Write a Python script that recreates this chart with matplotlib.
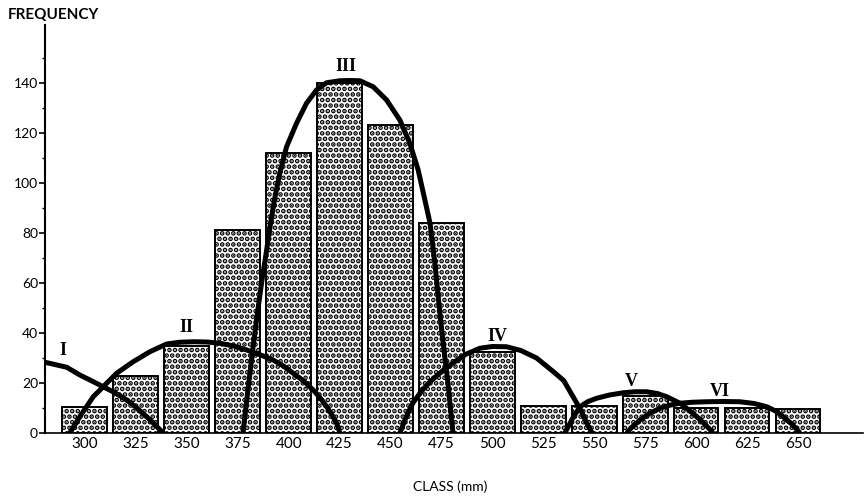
import numpy as np
import matplotlib
matplotlib.use('Agg')
import matplotlib.pyplot as plt

# class midpoints (mm) and frequencies
classes = [300, 325, 350, 375, 400, 425, 450, 475, 500, 525, 550, 575, 600, 625, 650]
freq = [10.5, 23, 35, 81, 112, 140, 123, 84, 32.5, 11, 11, 15, 10, 10, 9.5]

# fitted component curves
c1_x = [280.4, 291.1, 297.5, 303, 309, 315, 320.5, 325.5, 330.3, 334.5, 338.4]
c1_y = [28.3, 26.3, 23.2, 21, 18.5, 16, 13.2, 10, 6.5, 3.3, 0]
c2_x = [292.6, 297.5, 304.1, 309, 315.6, 323.7, 331.9, 340.1, 346.5, 353.2, 360, 366.3,
        373, 379.4, 386, 392.4, 397.5, 402.3, 407.5, 412.1, 415.5, 418.7, 421.3, 423.6, 425.2]
c2_y = [0, 6.5, 14.5, 18.5, 23.9, 28.5, 32.5, 35.6, 36.3, 36.5, 36.4, 35.9,
        34.8, 33.2, 31.3, 29.2, 26.8, 23.9, 20.7, 17.2, 14, 10.5, 7.2, 3.9, 0]
c3_x = [377.6, 380, 382.5, 384.7, 386.9, 389, 391, 393, 395.7, 399, 403.9, 408.8, 413.7,
        418.6, 425.2, 430, 435, 441.5, 448.1, 454.6, 459.5, 463.6, 466.9, 469.4, 471.8,
        473.5, 475.3, 478.2, 480.7]
c3_y = [0, 17, 34, 48, 61, 72, 83, 93, 104, 114.5, 123.9, 131.9, 137.2,
        140.1, 140.9, 141, 140.9, 138.5, 133.2, 125.2, 115.9, 105.2, 93.2, 84, 68,
        54, 40, 20, 0]
c4_x = [454.6, 458, 461, 465, 469.4, 475, 480.7, 487, 493.9, 500, 507, 514, 521.7, 530,
        535, 540, 543.5, 546.3, 549]
c4_y = [0, 7, 12, 16.5, 20.5, 24.5, 28, 31.5, 33.9, 34.6, 34.5, 33, 30, 24.5,
        21, 14, 9, 4, 0]
c5_x = [535.6, 539.5, 543, 547, 551.2, 557.5, 564.3, 570, 575.7, 581, 585.6, 592.1, 596.5,
        600.3, 604.5, 608.4]
c5_y = [0, 6, 10.5, 12.6, 13.9, 15.2, 16.1, 16.5, 16.5, 15.8, 14.5, 11.9, 9.2,
        6.5, 3.4, 0]
c6_x = [565.9, 569, 572.5, 577, 582.3, 587, 592.1, 598, 605.2, 613, 621.5, 628.5, 634.7,
        639, 642.8, 647, 651]
c6_y = [0, 2.7, 5.2, 7.8, 9.9, 11.1, 11.9, 12.3, 12.5, 12.6, 12.5, 11.8, 10.5,
        8.8, 6.5, 3.6, 0]

comp_labels = ['I', 'II', 'III', 'IV', 'V', 'VI']
label_x = [289, 349.7, 428, 502.4, 568.4, 611.7]
label_y = [33, 42, 146.5, 38.5, 20.5, 16.5]

plt.rcParams['hatch.linewidth'] = 2.4
plt.rcParams['font.family'] = ['Lato', 'DejaVu Sans']

fig = plt.figure(figsize=(8.64, 5), dpi=100)
ax = fig.add_axes([0.052, 0.134, 0.947, 0.816])

ax.bar(classes, freq, width=22, color='white', edgecolor='black', linewidth=1.4, hatch='...')

for cx, cy in [(c1_x, c1_y), (c2_x, c2_y), (c3_x, c3_y), (c4_x, c4_y), (c5_x, c5_y), (c6_x, c6_y)]:
    ax.plot(cx, cy, color='black', lw=3.6, solid_capstyle='butt', solid_joinstyle='round')

for lab, lx, ly in zip(comp_labels, label_x, label_y):
    ax.text(lx, ly, lab, ha='center', va='center', fontsize=13, fontweight='bold',
            family='Liberation Serif')

ax.set_xlim(280.4, 682)
ax.set_ylim(0, 163.2)
ax.spines['top'].set_visible(False)
ax.spines['right'].set_visible(False)
ax.spines['left'].set_linewidth(1.5)
ax.spines['bottom'].set_linewidth(1.2)
ax.set_xticks(classes)
ax.set_xticklabels([str(c) for c in classes], fontsize=11)
ax.tick_params(axis='x', length=0, pad=3)
ax.set_yticks(np.arange(0, 160, 20))
ax.set_yticks(np.arange(10, 160, 20), minor=True)
ax.tick_params(axis='y', length=4, width=1.2, labelsize=10, pad=1)
ax.tick_params(axis='y', which='minor', length=2, width=1)

fig.text(0.009, 0.97, 'FREQUENCY', fontsize=11, fontweight='bold', ha='left', va='center')
fig.text(0.521, 0.027, 'CLASS (mm)', fontsize=10, ha='center', va='center')

fig.savefig('out.png', dpi=100)
